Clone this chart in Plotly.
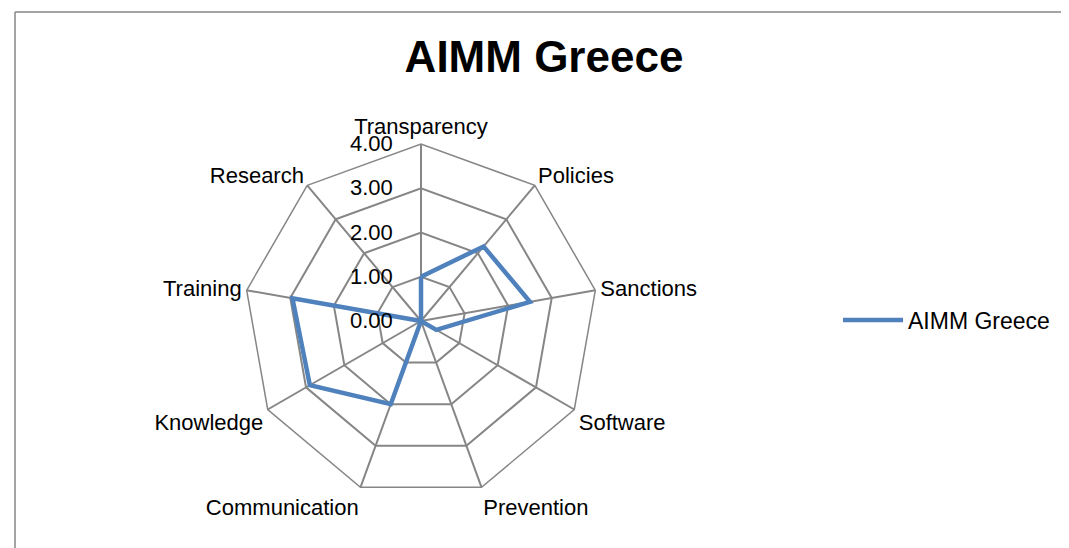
import plotly.graph_objects as go

categories = ["Transparency", "Policies", "Sanctions", "Software", "Prevention",
              "Communication", "Knowledge", "Training", "Research"]
values = [1.0, 2.2, 2.5, 0.4, 0.0, 2.0, 2.9, 2.95, 0.0]
series_name = "AIMM Greece"

W, H = 1069, 548
cx, cy, R = 413, 313, 177

fig = go.Figure()
fig.add_trace(go.Scatterpolar(
    r=values + values[:1],
    theta=categories + categories[:1],
    mode="lines",
    line=dict(color="#4F81BD", width=4.5),
    name=series_name,
))

gray = "#868686"
fig.update_layout(
    width=W, height=H,
    margin=dict(l=0, r=0, t=0, b=0),
    paper_bgcolor="white",
    plot_bgcolor="white",
    font=dict(family="Liberation Sans", size=22, color="black"),
    title=dict(text="<b>AIMM Greece</b>", x=536 / W, xanchor="center",
               y=1 - 49 / H, yanchor="middle",
               font=dict(size=44, family="Liberation Sans", color="black")),
    polar=dict(
        domain=dict(x=[(cx - R) / W, (cx + R) / W],
                    y=[1 - (cy + R) / H, 1 - (cy - R) / H]),
        bgcolor="white",
        gridshape="linear",
        angularaxis=dict(
            direction="clockwise", rotation=90,
            showgrid=True, gridcolor=gray, gridwidth=1.5,
            showline=True, linecolor=gray, linewidth=1.5,
            ticks="", tickfont=dict(size=22),
        ),
        radialaxis=dict(
            range=[0, 4], dtick=1, tickformat=".2f",
            ticksuffix="\u00a0\u00a0\u00a0\u00a0",
            angle=90, tickangle=90, side="counterclockwise",
            showgrid=True, gridcolor=gray, gridwidth=1.5,
            showline=False, ticks="",
            tickfont=dict(size=22),
        ),
    ),
    showlegend=True,
    legend=dict(x=830 / W, y=1 - 312 / H, xanchor="left", yanchor="middle",
                font=dict(size=23), itemwidth=60),
    shapes=[
        dict(type="line", xref="paper", yref="paper",
             x0=7 / W, x1=1.01, y0=1 - 4 / H, y1=1 - 4 / H,
             line=dict(color=gray, width=1.5)),
        dict(type="line", xref="paper", yref="paper",
             x0=7 / W, x1=7 / W, y0=-0.01, y1=1 - 4 / H,
             line=dict(color=gray, width=1.5)),
    ],
)

fig.write_html("out.html")
